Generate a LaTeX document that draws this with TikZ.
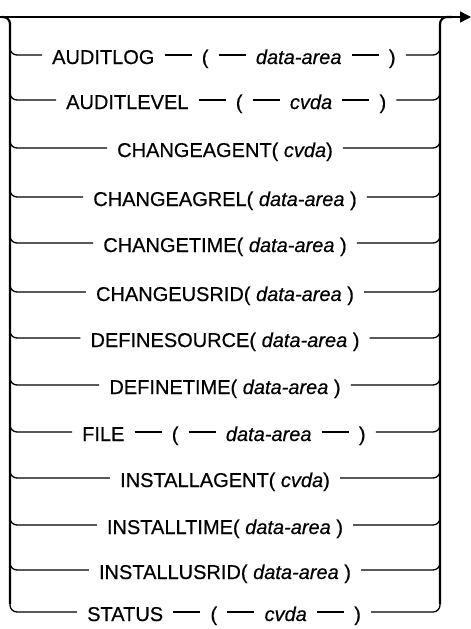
\documentclass[tikz,border=0pt]{standalone}
\usepackage{fontspec}
\setmainfont{Liberation Sans}[FakeBold=0.5]
\usetikzlibrary{arrows.meta,positioning}
\begin{document}
\begin{tikzpicture}[x=1pt,y=1pt,
  tok/.style={inner xsep=10pt, inner ysep=0pt, text height=18pt, text depth=0pt,
              font=\fontsize{20}{24}\selectfont},
  conn/.style={line width=1.3pt},
  bar/.style={line width=2.2pt, rounded corners=7pt},
  branch/.style={conn, rounded corners=7pt},
  dashgap/.style={right=27pt of #1},
]
\useasboundingbox (0,0) rectangle (471,-629);

% main line
\coordinate (start) at (0,-17);
\coordinate (finish) at (471,-17);
\draw[conn, -{Triangle[length=11pt,width=11pt]}] (start) -- (finish);

% bars
\coordinate (ltop) at (2,-17);
\coordinate (lbot) at (10,-604);
\coordinate (rbot) at (440,-604);
\coordinate (rtop) at (452,-17);
\draw[bar] (ltop) -| (lbot);
\draw[bar] (rbot) |- (rtop);

% single-node rows
\foreach \n/\y/\t in {
  3/148/{CHANGEAGENT( \textit{cvda})},
  4/197/{CHANGEAGREL( \textit{data-area} )},
  5/243/{CHANGETIME( \textit{data-area} )},
  6/292/{CHANGEUSRID( \textit{data-area} )},
  7/338/{DEFINESOURCE( \textit{data-area} )},
  8/385/{DEFINETIME( \textit{data-area} )},
  10/478/{INSTALLAGENT( \textit{cvda})},
  11/525/{INSTALLTIME( \textit{data-area} )},
  12/570/{INSTALLUSRID( \textit{data-area} )}}
{
  \node[tok, alias=r\n e] (r\n s) at (225,-\y) {\t};
}

% chained rows
\node[tok, anchor=west] (r1s) at (42,-55) {AUDITLOG};
\node[tok, dashgap=r1s] (r1b) {(};
\node[tok, dashgap=r1b] (r1c) {\textit{data-area}};
\node[tok, dashgap=r1c] (r1e) {)};
\draw[conn] (r1s.east) -- (r1b.west);
\draw[conn] (r1b.east) -- (r1c.west);
\draw[conn] (r1c.east) -- (r1e.west);

\node[tok, anchor=west] (r2s) at (56,-100) {AUDITLEVEL};
\node[tok, dashgap=r2s] (r2b) {(};
\node[tok, dashgap=r2b] (r2c) {\textit{cvda}};
\node[tok, dashgap=r2c] (r2e) {)};
\draw[conn] (r2s.east) -- (r2b.west);
\draw[conn] (r2b.east) -- (r2c.west);
\draw[conn] (r2c.east) -- (r2e.west);

\node[tok, anchor=west] (r9s) at (72,-432) {FILE};
\node[tok, dashgap=r9s] (r9b) {(};
\node[tok, dashgap=r9b] (r9c) {\textit{data-area}};
\node[tok, dashgap=r9c] (r9e) {)};
\draw[conn] (r9s.east) -- (r9b.west);
\draw[conn] (r9b.east) -- (r9c.west);
\draw[conn] (r9c.east) -- (r9e.west);

\node[tok, anchor=west] (r13s) at (77,-612) {STATUS};
\node[tok, dashgap=r13s] (r13b) {(};
\node[tok, dashgap=r13b] (r13c) {\textit{cvda}};
\node[tok, dashgap=r13c] (r13e) {)};
\draw[conn] (r13s.east) -- (r13b.west);
\draw[conn] (r13b.east) -- (r13c.west);
\draw[conn] (r13c.east) -- (r13e.west);

% branches to the bars
\foreach \n/\y in {1/55,2/100,3/148,4/197,5/243,6/292,7/338,8/385,9/432,10/478,11/525,12/570,13/612}
{
  \coordinate (L\n) at (10,{-\y+12});
  \coordinate (R\n) at (440,{-\y+12});
  \draw[branch] (L\n) |- (r\n s.west);
  \draw[branch] (r\n e.east) -| (R\n);
}
\end{tikzpicture}
\end{document}
